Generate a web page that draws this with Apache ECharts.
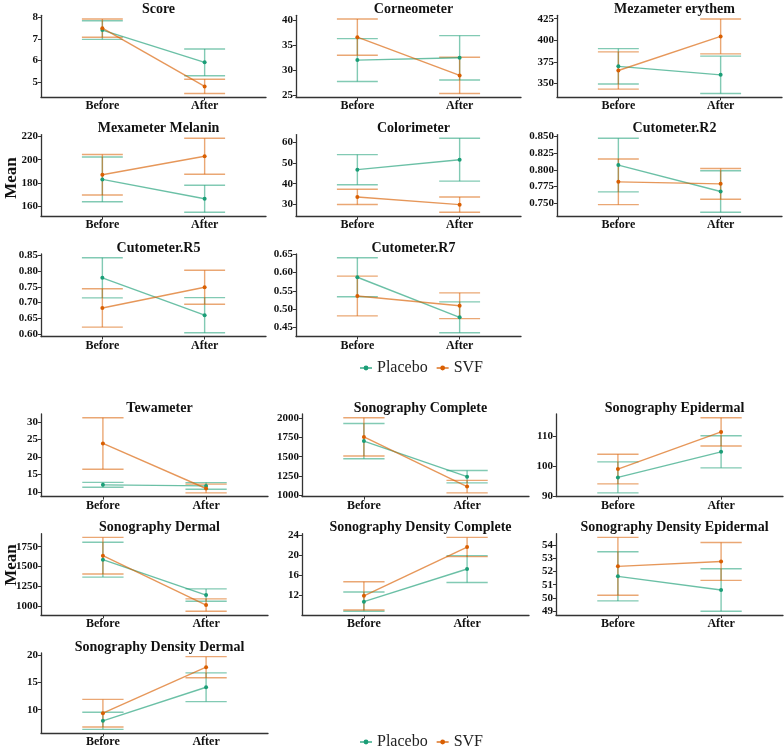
<!DOCTYPE html>
<html>
<head>
<meta charset="utf-8">
<script src="https://cdn.jsdelivr.net/npm/echarts@6/dist/echarts.min.js"></script>
<style>
  html, body { margin: 0; padding: 0; background: #fff; }
  #main { width: 784px; height: 748px; }
</style>
</head>
<body>
<div id="main"></div>
<script>
// categories
var xCats = ['Before', 'After'];
var groups = ['Placebo', 'SVF'];

var panelTitles = [
  'Score', 'Corneometer', 'Mezameter erythem',
  'Mexameter Melanin', 'Colorimeter', 'Cutometer.R2',
  'Cutometer.R5', 'Cutometer.R7',
  'Tewameter', 'Sonography Complete', 'Sonography Epidermal',
  'Sonography Dermal', 'Sonography Density Complete', 'Sonography Density Epidermal',
  'Sonography Density Dermal'
];

// mean [Before, After] and half error bar
var placeboMean = [
  [7.41, 5.92], [32.05, 32.5], [369.7, 359.8],
  [183.0, 166.3], [46.7, 51.45], [0.807, 0.7675],
  [0.779, 0.660], [0.587, 0.478],
  [12.0, 11.7], [1700, 1243], [96.2, 104.8],
  [1586, 1140], [10.8, 17.25], [51.64, 50.6],
  [7.95, 14.15]
];
var placeboErr = [
  [0.43, 0.62], [4.25, 4.4], [20.5, 21.7],
  [19.3, 11.7], [7.2, 10.25], [0.040, 0.031],
  [0.064, 0.056], [0.053, 0.042],
  [0.7, 0.95], [226, 80], [5.2, 5.4],
  [219, 78], [1.9, 2.65], [1.87, 1.62],
  [1.58, 2.65]
];
var svfMean = [
  [7.50, 4.81], [36.6, 29.0], [364.9, 404.4],
  [187.0, 203.0], [33.65, 29.95], [0.782, 0.779],
  [0.683, 0.749], [0.536, 0.5095],
  [23.9, 10.95], [1754, 1115], [99.0, 111.5],
  [1636, 1014], [11.95, 21.6], [52.4, 52.77],
  [9.35, 17.85]
];
var svfErr = [
  [0.42, 0.33], [3.6, 3.6], [21.6, 20.2],
  [17.5, 15.5], [3.65, 3.65], [0.034, 0.023],
  [0.061, 0.054], [0.054, 0.035],
  [7.4, 1.25], [246, 80], [5.0, 4.75],
  [231, 78], [2.8, 1.9], [2.2, 1.44],
  [2.55, 1.95]
];

// y tick labels
var yTicks = [
  ['5', '6', '7', '8'], ['25', '30', '35', '40'], ['350', '375', '400', '425'],
  ['160', '180', '200', '220'], ['30', '40', '50', '60'], ['0.750', '0.775', '0.800', '0.825', '0.850'],
  ['0.60', '0.65', '0.70', '0.75', '0.80', '0.85'], ['0.45', '0.50', '0.55', '0.60', '0.65'],
  ['10', '15', '20', '25', '30'], ['1000', '1250', '1500', '1750', '2000'], ['90', '100', '110'],
  ['1000', '1250', '1500', '1750'], ['12', '16', '20', '24'], ['49', '50', '51', '52', '53', '54'],
  ['10', '15', '20']
];

var colors = { Placebo: '#1B9E77', SVF: '#D95F02' };
var FONT = 'Liberation Serif';

// panel rectangles
function panelRect(i) {
  var tops, heights, lefts, width, k;
  if (i < 8) {
    tops = [15.3, 134.6, 254]; heights = [82, 81.4, 82.5];
    lefts = [41, 296, 557]; width = 225; k = i;
  } else {
    tops = [414, 533.7, 653]; heights = [82.6, 81.3, 81.3];
    lefts = [41, 302, 556]; width = 227; k = i - 8;
  }
  var r = Math.floor(k / 3), c = k % 3;
  return { left: lefts[c], top: tops[r], width: width, height: heights[r] };
}

function errRender(color) {
  return function (params, api) {
    var x = api.value(0), m = api.value(1), e = api.value(2);
    var hi = api.coord([x, m + e]), lo = api.coord([x, m - e]);
    var hl = api.coord([x - 0.2, m + e]), hr = api.coord([x + 0.2, m + e]);
    var ll = api.coord([x - 0.2, m - e]), lr = api.coord([x + 0.2, m - e]);
    var st = { stroke: color, lineWidth: 1.4, opacity: 0.55 };
    return {
      type: 'group',
      children: [
        { type: 'line', shape: { x1: hi[0], y1: hi[1], x2: lo[0], y2: lo[1] }, style: st },
        { type: 'line', shape: { x1: hl[0], y1: hl[1], x2: hr[0], y2: hr[1] }, style: st },
        { type: 'line', shape: { x1: ll[0], y1: ll[1], x2: lr[0], y2: lr[1] }, style: st }
      ]
    };
  };
}

var grids = [], xAxes = [], yAxes = [], titles = [], lineSeries = [], barSeries = [];

panelTitles.forEach(function (name, i) {
  var rect = panelRect(i);
  grids.push(rect);

  titles.push({
    text: name,
    left: rect.left + rect.width / 2,
    top: rect.top - 18,
    textAlign: 'center',
    textStyle: { fontFamily: FONT, fontWeight: 'bold', fontSize: 14, color: '#111' }
  });

  var lo = Infinity, hi = -Infinity;
  [[placeboMean, placeboErr], [svfMean, svfErr]].forEach(function (g) {
    for (var j = 0; j < 2; j++) {
      lo = Math.min(lo, g[0][i][j] - g[1][i][j]);
      hi = Math.max(hi, g[0][i][j] + g[1][i][j]);
    }
  });
  var pad = (hi - lo) * 0.05;
  var ticks = yTicks[i];
  var dec = (ticks[0].split('.')[1] || '').length;

  xAxes.push({
    gridIndex: i, type: 'value', min: 0.4, max: 2.6,
    splitLine: { show: false },
    axisLine: { lineStyle: { color: '#333', width: 1.3 } },
    axisTick: { customValues: [1, 2], length: 3, lineStyle: { color: '#333' } },
    axisLabel: {
      customValues: [1, 2], margin: 3,
      formatter: function (v) { return xCats[Math.round(v) - 1]; },
      fontFamily: FONT, fontWeight: 'bold', fontSize: 12, color: '#111'
    }
  });
  yAxes.push({
    gridIndex: i, type: 'value', min: lo - pad, max: hi + pad,
    splitLine: { show: false },
    axisLine: { show: true, lineStyle: { color: '#333', width: 1.3 } },
    axisTick: { show: true, customValues: ticks.map(Number), length: 3, lineStyle: { color: '#333' } },
    axisLabel: {
      customValues: ticks.map(Number), margin: 3,
      formatter: function (v) { return v.toFixed(dec); },
      fontFamily: FONT, fontWeight: 'bold', fontSize: 11, color: '#111'
    }
  });

  [['Placebo', placeboMean, placeboErr], ['SVF', svfMean, svfErr]].forEach(function (g) {
    var col = colors[g[0]];
    barSeries.push({
      type: 'custom', name: g[0], xAxisIndex: i, yAxisIndex: i,
      renderItem: errRender(col),
      encode: { x: 0, y: 1 },
      data: [[1, g[1][i][0], g[2][i][0]], [2, g[1][i][1], g[2][i][1]]],
      silent: true, z: 2
    });
    lineSeries.push({
      type: 'line', name: g[0], xAxisIndex: i, yAxisIndex: i,
      data: [[1, g[1][i][0]], [2, g[1][i][1]]],
      symbol: 'circle', symbolSize: 4, showSymbol: true,
      lineStyle: { color: col, width: 1.4, opacity: 0.65 },
      itemStyle: { color: col },
      z: 3
    });
  });
});

function legendAt(top) {
  return {
    data: groups, top: top, left: 354, orient: 'horizontal',
    itemWidth: 12, itemHeight: 6, itemGap: 8,
    textStyle: { fontFamily: FONT, fontSize: 16, color: '#222' }
  };
}

var chart = echarts.init(document.getElementById('main'));
chart.setOption({
  backgroundColor: '#fff',
  animation: false,
  color: [colors.Placebo, colors.SVF],
  title: titles,
  legend: [legendAt(355), legendAt(729)],
  grid: grids,
  xAxis: xAxes,
  yAxis: yAxes,
  // line series first so the legend takes their line+dot icon
  series: lineSeries.concat(barSeries),
  graphic: [
    { type: 'text', x: 3, y: 178, rotation: Math.PI / 2,
      style: { text: 'Mean', fontFamily: FONT, fontWeight: 'bold', fontSize: 17, fill: '#111', textAlign: 'center', textVerticalAlign: 'top' } },
    { type: 'text', x: 3, y: 565, rotation: Math.PI / 2,
      style: { text: 'Mean', fontFamily: FONT, fontWeight: 'bold', fontSize: 17, fill: '#111', textAlign: 'center', textVerticalAlign: 'top' } }
  ]
});
</script>
</body>
</html>
